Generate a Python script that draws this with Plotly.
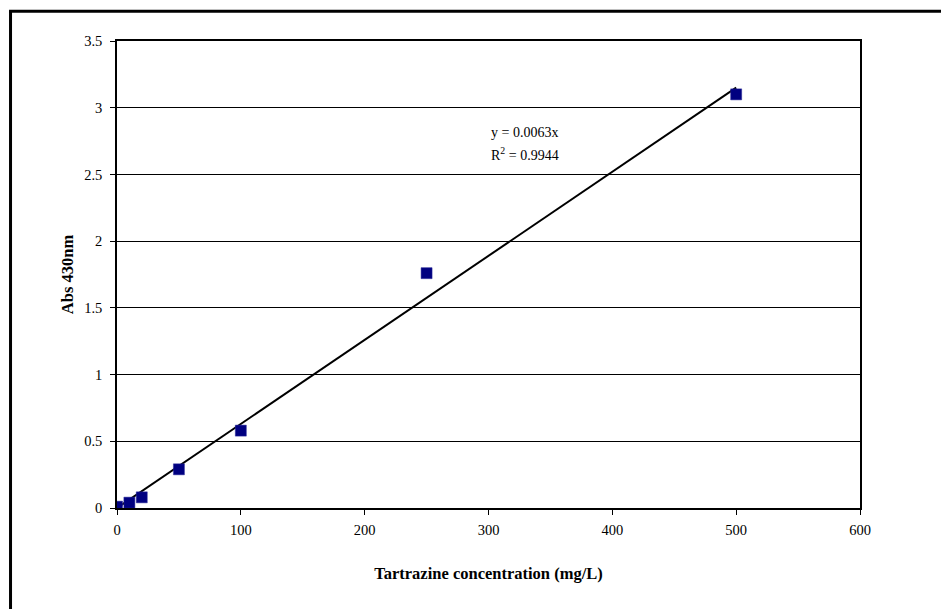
import plotly.graph_objects as go

# Calibration standards: tartrazine concentration vs absorbance at 430 nm
concentration = [0, 10, 20, 50, 100, 250, 500]
absorbance = [0.01, 0.04, 0.08, 0.29, 0.58, 1.76, 3.10]

# Linear fit through the origin
slope = 0.0063
r_squared = 0.9944
fit_x = [0, 500]
fit_y = [slope * v for v in fit_x]

x_ticks = [0, 100, 200, 300, 400, 500, 600]
y_ticks = [0, 0.5, 1, 1.5, 2, 2.5, 3, 3.5]
y_tick_text = ["0", "0.5", "1", "1.5", "2", "2.5", "3", "3.5"]

serif = "Liberation Serif"

fig = go.Figure()
fig.add_trace(go.Scatter(
    x=fit_x, y=fit_y, mode="lines",
    line=dict(color="black", width=2),
    hoverinfo="skip", showlegend=False,
))
fig.add_trace(go.Scatter(
    x=concentration, y=absorbance, mode="markers",
    marker=dict(symbol="square", size=11, color="#000080",
                line=dict(color="#2a2a9a", width=0.5)),
    showlegend=False,
))

# Trendline equation and R-squared
fig.add_annotation(
    x=300, y=2.818, xref="x", yref="y",
    text=f"y = {slope}x",
    showarrow=False, xanchor="left", yanchor="middle",
    font=dict(family=serif, size=14, color="black"),
)
fig.add_annotation(
    x=300, y=2.655, xref="x", yref="y",
    text=f"R<sup>2</sup> = {r_squared}",
    showarrow=False, xanchor="left", yanchor="middle",
    font=dict(family=serif, size=14, color="black"),
)

# Chart-area frame (left and top edges)
frame_left, frame_top = -0.1433, 1.0635
fig.add_shape(type="line", xref="paper", yref="paper",
              x0=frame_left, y0=-0.6, x1=frame_left, y1=frame_top,
              line=dict(color="black", width=3), layer="below")
fig.add_shape(type="line", xref="paper", yref="paper",
              x0=frame_left - 0.002, y0=frame_top, x1=1.6, y1=frame_top,
              line=dict(color="black", width=3), layer="below")

fig.update_layout(
    width=941, height=609,
    margin=dict(l=117, r=81, t=41, b=101),
    paper_bgcolor="white", plot_bgcolor="white",
    font=dict(family=serif, size=13, color="black"),
    xaxis=dict(
        range=[0, 600], tickvals=x_ticks,
        ticks="outside", ticklen=5, tickcolor="black", tickwidth=1,
        showline=True, linecolor="black", linewidth=1.5, mirror=True,
        showgrid=False, zeroline=False,
        ticklabelstandoff=3,
        tickfont=dict(family=serif, size=14.5, color="black"),
        title=dict(text="<b>Tartrazine concentration (mg/L)</b>",
                   font=dict(family=serif, size=16.5, color="black"),
                   standoff=30),
    ),
    yaxis=dict(
        range=[0, 3.5], tickvals=y_ticks, ticktext=y_tick_text,
        ticks="outside", ticklen=5, tickcolor="black", tickwidth=1,
        showline=True, linecolor="black", linewidth=1.5, mirror=True,
        showgrid=True, gridcolor="black", gridwidth=1,
        zeroline=False,
        ticklabelstandoff=5,
        tickfont=dict(family=serif, size=14.5, color="black"),
        title=dict(text="<b>Abs 430nm</b>",
                   font=dict(family=serif, size=16.5, color="black"),
                   standoff=6),
    ),
)

fig.write_html("out.html")
